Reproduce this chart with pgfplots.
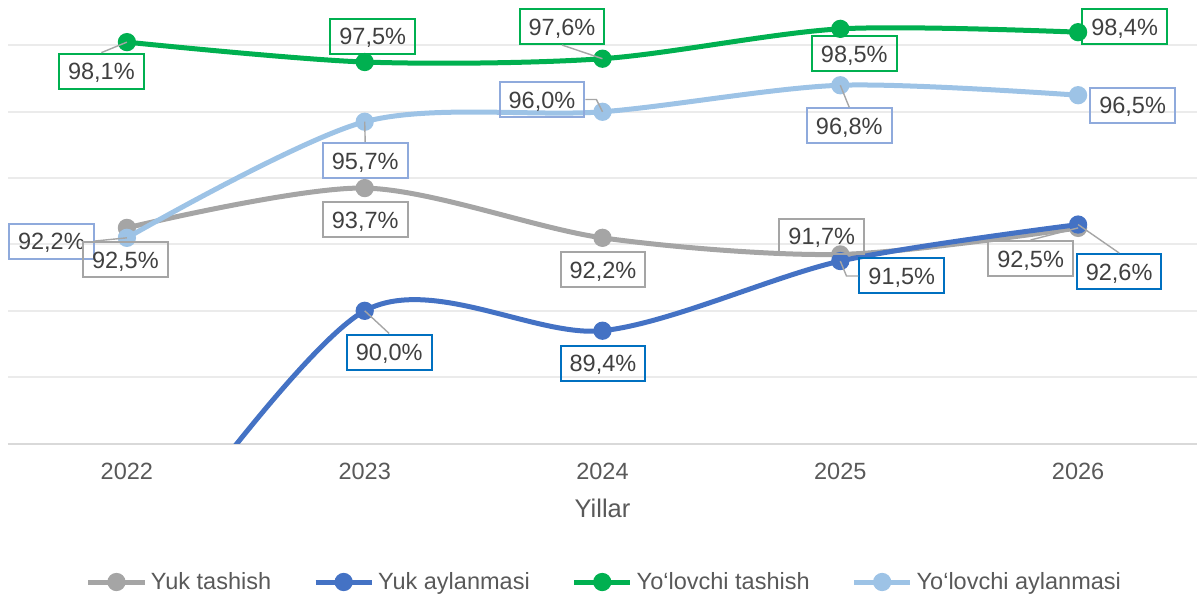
\documentclass[border=0pt]{standalone}
\usepackage{fontspec}
\setmainfont{Liberation Sans}
\usepackage{pgfplots}
\pgfplotsset{compat=1.18}
\definecolor{cgray}{HTML}{A5A5A5}
\definecolor{cblue}{HTML}{4472C4}
\definecolor{cgreen}{HTML}{00B050}
\definecolor{clblue}{HTML}{9DC3E6}
\definecolor{bgray}{HTML}{A5A5A5}
\definecolor{bblue}{HTML}{0070C0}
\definecolor{bgreen}{HTML}{00B050}
\definecolor{blblue}{HTML}{8FAADC}
\definecolor{txt}{HTML}{595959}
\definecolor{lbltxt}{HTML}{404040}
\definecolor{gridc}{HTML}{EBEBEB}
\definecolor{axl}{HTML}{D9D9D9}
\definecolor{leader}{HTML}{A6A6A6}
\newcommand{\myfont}{\fontsize{11.8}{14}\selectfont}
\begin{document}
\begin{tikzpicture}[
  lbl/.style={draw=#1, line width=1bp, font=\myfont, text=lbltxt, inner xsep=4.5bp, inner ysep=0bp, minimum height=17.5bp, text height=8.6bp, text depth=0bp, anchor=center},
  ld/.style={draw=leader, line width=0.7bp}]
\useasboundingbox (-4bp,-75.25bp) rectangle (595bp,221.75bp);
\begin{axis}[
  at={(0,0)}, anchor=south west,
  scale only axis, width=594.5bp, height=221.75bp,
  xmin=-0.5, xmax=4.5, ymin=86, ymax=99.37,
  clip mode=individual,
  axis line style={draw=none},
  xtick={0,1,2,3,4},
  xticklabels={2022,2023,2024,2025,2026},
  ytick={88,90,92,94,96,98},
  yticklabels={},
  extra y ticks={86},
  extra y tick labels={},
  extra y tick style={grid style={draw=axl, line width=1bp}},
  ymajorgrids,
  grid style={draw=gridc, line width=1bp},
  major tick length=0pt,
  xticklabel style={font=\myfont, text=txt, anchor=center, yshift=-13.75bp},
  xlabel={Yillar},
  xlabel style={font=\fontsize{12.8}{15}\selectfont, text=txt, at={(axis description cs:0.5,0)}, anchor=center, yshift=-32.5bp},
  legend columns=4,
  legend style={at={(0.5025,-0.3123)}, anchor=center, draw=none, fill=none, font=\myfont, text=txt,
    /tikz/every even column/.append style={column sep=19bp}},
  legend cell align=left,
  legend image code/.code={\draw[mark repeat=2,mark phase=2] plot coordinates {(0bp,0bp)(14bp,0bp)(28bp,0bp)};},
  every axis plot/.append style={line width=2.5bp, smooth, mark=*, mark size=3.3bp},
]
\addplot[cgray, mark options={fill=cgray, draw=none}] coordinates {(0,92.5)(1,93.7)(2,92.2)(3,91.7)(4,92.5)};
\addlegendentry{Yuk tashish}
\addplot[cblue, mark options={fill=cblue, draw=none}] coordinates {(0,81.6)(1,90.0)(2,89.4)(3,91.5)(4,92.6)};
\addlegendentry{Yuk aylanmasi}
\addplot[cgreen, mark options={fill=cgreen, draw=none}] coordinates {(0,98.1)(1,97.5)(2,97.6)(3,98.5)(4,98.4)};
\addlegendentry{Yo‘lovchi tashish}
\addplot[clblue, mark options={fill=clblue, draw=none}] coordinates {(0,92.2)(1,95.7)(2,96.0)(3,96.8)(4,96.5)};
\addlegendentry{Yo‘lovchi aylanmasi}

% green labels
\node[lbl=bgreen, xshift=-12.75bp, yshift=-14.5bp] (g0) at (axis cs:0,98.1) {98,1\%};
\node[lbl=bgreen, xshift=4bp, yshift=13bp] (g1) at (axis cs:1,97.5) {97,5\%};
\node[lbl=bgreen, xshift=-20.25bp, yshift=16.1bp] (g2) at (axis cs:2,97.6) {97,6\%};
\node[lbl=bgreen, xshift=7bp, yshift=-12.3bp] (g3) at (axis cs:3,98.5) {98,5\%};
\node[lbl=bgreen, xshift=23.25bp, yshift=2.6bp] (g4) at (axis cs:4,98.4) {98,4\%};
% light blue labels
\node[lbl=blblue, xshift=-37.75bp, yshift=-1.6bp] (l0) at (axis cs:0,92.2) {92,2\%};
\node[lbl=blblue, xshift=0.25bp, yshift=-19.35bp] (l1) at (axis cs:1,95.7) {95,7\%};
\node[lbl=blblue, xshift=-30.25bp, yshift=6.15bp] (l2) at (axis cs:2,96.0) {96,0\%};
\node[lbl=blblue, xshift=4.5bp, yshift=-20.35bp] (l3) at (axis cs:3,96.8) {96,8\%};
\node[lbl=blblue, xshift=27.25bp, yshift=-4.9bp] (l4) at (axis cs:4,96.5) {96,5\%};
% gray labels
\node[lbl=bgray, xshift=-0.75bp, yshift=-16.05bp] (y0) at (axis cs:0,92.5) {92,5\%};
\node[lbl=bgray, xshift=0.25bp, yshift=-15.95bp] (y1) at (axis cs:1,93.7) {93,7\%};
\node[lbl=bgray, xshift=0.25bp, yshift=-15.85bp] (y2) at (axis cs:2,92.2) {92,2\%};
\node[lbl=bgray, xshift=-9.25bp, yshift=9.2bp] (y3) at (axis cs:3,91.7) {91,7\%};
\node[lbl=bgray, xshift=-23.75bp, yshift=-15.3bp] (y4) at (axis cs:4,92.5) {92,5\%};
% blue labels
\node[lbl=bblue, xshift=12.25bp, yshift=-20.6bp] (b1) at (axis cs:1,90.0) {90,0\%};
\node[lbl=bblue, xshift=0.25bp, yshift=-16.15bp] (b2) at (axis cs:2,89.4) {89,4\%};
\node[lbl=bblue, xshift=30.75bp, yshift=-7.45bp] (b3) at (axis cs:3,91.5) {91,5\%};
\node[lbl=bblue, xshift=20.5bp, yshift=-23.45bp] (b4) at (axis cs:4,92.6) {92,6\%};
% leader lines
\draw[ld] (axis cs:0,98.1) -- (g0.north);
\draw[ld] (axis cs:2,97.6) -- (g2.south);
\draw[ld] (l0.east) -- (axis cs:0,92.2);
\draw[ld] (axis cs:1,95.7) -- (l1.north);
\draw[ld] (l2.east) -- ([xshift=5.5bp]l2.east) -- (axis cs:2,96.0);
\draw[ld] (axis cs:3,96.8) -- (l3.north);
\draw[ld] (axis cs:4,92.5) -- (y4.north);
\draw[ld] (axis cs:1,90.0) -- (b1.north);
\draw[ld] (axis cs:3,91.5) -- ([xshift=-6bp]b3.west) -- (b3.west);
\draw[ld] (axis cs:4,92.6) -- (b4.north);
\end{axis}
\end{tikzpicture}
\end{document}
